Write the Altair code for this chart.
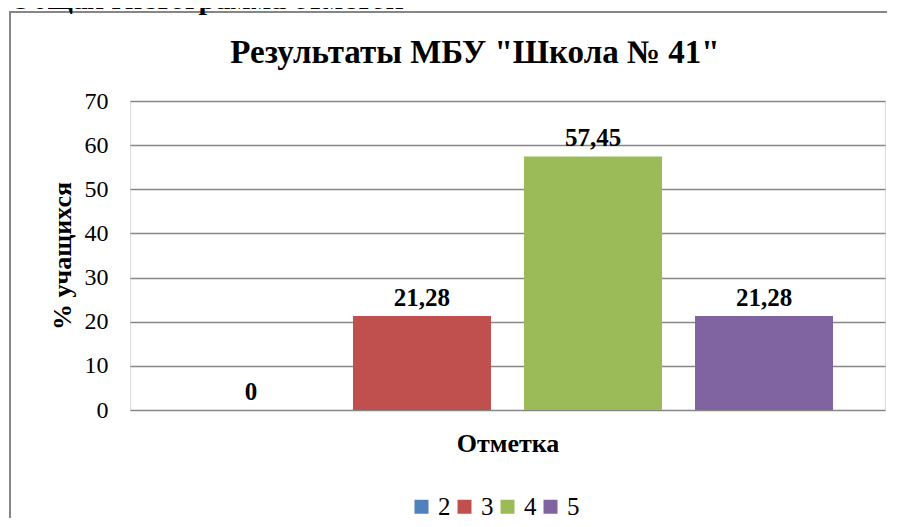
import altair as alt
import pandas as pd

series = ["2", "3", "4", "5"]
values = [0, 21.28, 57.45, 21.28]
colors = ["#4F81BD", "#C0504D", "#9BBB59", "#8064A2"]
y_ticks = [0, 10, 20, 30, 40, 50, 60, 70]

title_text = 'Результаты МБУ "Школа № 41"'
heading_text = "Общая гистограмма отметок"

df = pd.DataFrame({"series": series, "value": values})

FONT = "Liberation Serif, Times New Roman, serif"
GRID = "#868686"

base = alt.Chart(df)

x_enc = alt.X(
    "series:N",
    sort=series,
    scale=alt.Scale(paddingInner=0.193, paddingOuter=0.304),
    axis=alt.Axis(
        title="Отметка", labels=False, ticks=False, domain=False,
        titleFont=FONT, titleFontSize=26, titleFontWeight="bold",
        titleColor="black", titlePadding=20,
    ),
)
y_enc = alt.Y(
    "value:Q",
    scale=alt.Scale(domain=[0, 70], nice=False),
    axis=alt.Axis(
        title="% учащихся", values=y_ticks, ticks=False, domain=False,
        grid=True, gridColor=GRID, gridWidth=1.6, gridOpacity=1,
        labelFont=FONT, labelFontSize=24, labelColor="black", labelPadding=22,
        titleFont=FONT, titleFontSize=26, titleFontWeight="bold",
        titleColor="black", titlePadding=9,
    ),
)

bars = base.mark_bar().encode(
    x=x_enc,
    y=y_enc,
    color=alt.Color(
        "series:N",
        sort=series,
        scale=alt.Scale(domain=series, range=colors),
        legend=alt.Legend(
            title=None, orient="none", legendX=279, legendY=393,
            direction="horizontal", symbolType="square", symbolSize=196,
            symbolStrokeWidth=0, labelFont=FONT, labelFontSize=25,
            labelColor="black", labelOffset=4, columnPadding=1, padding=0,
        ),
    ),
)

labels = base.transform_calculate(
    lab="datum.value == 0 ? '0' : replace(format(datum.value, '.2f'), '.', ',')"
).mark_text(
    font=FONT, fontSize=25, fontWeight="bold", color="black",
    baseline="bottom", dy=-5,
).encode(
    x=alt.X("series:N", sort=series),
    y="value:Q",
    text="lab:N",
)

# Outer chart border: only the top and left edges are visible on the page
FW, FH = 877, 506
frame = alt.Chart(alt.Data(values=[{}])).mark_rect(
    fill=None, stroke=GRID, strokeWidth=2,
    strokeDash=[FW, FW + FH, FH + 4],
).encode(
    x=alt.value(-120), x2=alt.value(-120 + FW),
    y=alt.value(-89), y2=alt.value(-89 + FH),
)

title = alt.Chart(alt.Data(values=[{"t": title_text}])).mark_text(
    font=FONT, fontSize=33, fontWeight="bold", color="black", baseline="middle",
).encode(x=alt.value(345), y=alt.value(-48), text="t:N")

heading = alt.Chart(alt.Data(values=[{"t": heading_text}])).mark_text(
    font=FONT, fontSize=30, fontWeight="bold", color="black",
    baseline="alphabetic", align="left",
).encode(x=alt.value(-121), y=alt.value(-92), text="t:N")

chart = alt.layer(frame, bars, labels, title, heading).properties(
    width=755, height=309,
    autosize=alt.AutoSizeParams(type="none"),
    padding={"left": 122, "top": 93, "right": 3, "bottom": 109},
).configure_view(stroke=None).configure(background="white")

chart.save("out.html", embed_options={"renderer": "svg", "actions": False})
